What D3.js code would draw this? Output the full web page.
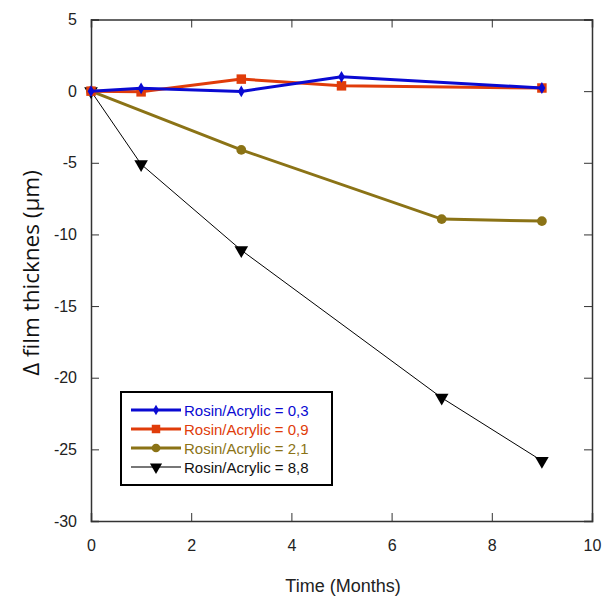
<!DOCTYPE html>
<html>
<head>
<meta charset="utf-8">
<script src="https://cdn.jsdelivr.net/npm/d3@7"></script>
<style>
  body { margin: 0; background: #fff; }
  text { font-family: "Liberation Sans", Arial, sans-serif; }
</style>
</head>
<body>
<div id="app"></div>
<script>
// data
var seriesNames = ["Rosin/Acrylic = 0,3", "Rosin/Acrylic = 0,9", "Rosin/Acrylic = 2,1", "Rosin/Acrylic = 8,8"];
var monthsA = [0, 1, 3, 5, 9];
var valuesA = [0, 0.2, -0.02, 1.0, 0.22];
var monthsB = [0, 1, 3, 5, 9];
var valuesB = [0, -0.05, 0.84, 0.37, 0.22];
var monthsC = [0, 3, 7, 9];
var valuesC = [0, -4.1, -8.93, -9.07];
var monthsD = [0, 1, 3, 7, 9];
var valuesD = [0, -5.1, -11.1, -21.4, -25.8];
var xTicks = [0, 2, 4, 6, 8, 10];
var yTicks = [5, 0, -5, -10, -15, -20, -25, -30];

var colors = ["#0a0ad2", "#e03c0a", "#8b7316", "#000000"];
var widths = [3, 3, 3, 1];

var W = 604, H = 598;
var pLeft = 91, pRight = 592, pTop = 19.5, pBottom = 521;

var svg = d3.select('#app').append('svg').attr('width', W).attr('height', H);

var x = d3.scaleLinear().domain([0, 10]).range([pLeft, pRight]);
var y = d3.scaleLinear().domain([-30, 5]).range([pBottom, pTop]);

// plain hyphen like the original, not the unicode minus
var plain = function(d) { return String(d); };

// frame + inward ticks on every side
var frameColor = "#333";
function styleAxis(g) {
  g.select('.domain').attr('stroke', frameColor).attr('stroke-width', 1.5);
  g.selectAll('.tick line').attr('stroke', frameColor);
  g.selectAll('.tick text').attr('font-size', 16).attr('fill', '#222')
    .style('font-family', '"Liberation Sans", Arial, sans-serif');
}
svg.append('g').attr('transform', 'translate(0,' + pBottom + ')')
  .call(d3.axisBottom(x).tickValues(xTicks).tickSize(-8).tickPadding(19).tickFormat(plain))
  .call(styleAxis);
svg.append('g').attr('transform', 'translate(0,' + pTop + ')')
  .call(d3.axisTop(x).tickValues(xTicks).tickSize(-8).tickFormat(''))
  .call(styleAxis);
svg.append('g').attr('transform', 'translate(' + pLeft + ',0)')
  .call(d3.axisLeft(y).tickValues(yTicks).tickSize(-8).tickPadding(14).tickFormat(plain))
  .call(styleAxis);
svg.append('g').attr('transform', 'translate(' + pRight + ',0)')
  .call(d3.axisRight(y).tickValues(yTicks).tickSize(-8).tickFormat(''))
  .call(styleAxis);

// axis titles
svg.append('text')
  .attr('x', 343).attr('y', 592)
  .attr('text-anchor', 'middle').attr('font-size', 18).attr('fill', '#222')
  .text('Time (Months)');
svg.append('text')
  .attr('transform', 'translate(39,' + 273 + ') rotate(-90)')
  .attr('text-anchor', 'middle').attr('font-size', 22.5).attr('fill', '#111')
  .style('font-family', '"Open Sans", Lato, sans-serif')
  .text('\u0394 film thicknes (\u03bcm)');

var allSeries = [
  { xs: monthsA, ys: valuesA, sym: d3.symbolDiamond, size: 40 },
  { xs: monthsB, ys: valuesB, sym: d3.symbolSquare, size: 90 },
  { xs: monthsC, ys: valuesC, sym: d3.symbolCircle, size: 75 },
  { xs: monthsD, ys: valuesD, sym: d3.symbolTriangle, size: 80, flip: true }
];

var line = d3.line().x(function(d) { return x(d[0]); }).y(function(d) { return y(d[1]); });

// draw bottom series first so blue sits over red like in the picture
[3, 2, 1, 0].forEach(function(i) {
  var s = allSeries[i];
  var pts = s.xs.map(function(v, j) { return [v, s.ys[j]]; });
  svg.append('path').datum(pts)
    .attr('d', line).attr('fill', 'none')
    .attr('stroke', colors[i]).attr('stroke-width', widths[i]);
  svg.selectAll('.m' + i).data(pts).enter().append('path')
    .attr('class', 'm' + i)
    .attr('d', d3.symbol().type(s.sym).size(s.size))
    .attr('transform', function(d) {
      return 'translate(' + x(d[0]) + ',' + y(d[1]) + ')' + (s.flip ? ' rotate(180)' : '');
    })
    .attr('fill', colors[i]);
});

// legend
var lg = svg.append('g').attr('transform', 'translate(121,392)');
lg.append('rect').attr('width', 211).attr('height', 93)
  .attr('fill', '#fff').attr('stroke', '#000').attr('stroke-width', 2);
seriesNames.forEach(function(name, i) {
  var s = allSeries[i];
  var yy = 18 + i * 19;
  lg.append('line').attr('x1', 10).attr('x2', 60).attr('y1', yy).attr('y2', yy)
    .attr('stroke', i === 3 ? '#777' : colors[i]).attr('stroke-width', i === 3 ? 2 : 3);
  lg.append('path')
    .attr('d', d3.symbol().type(s.sym).size(s.size * 0.8))
    .attr('transform', 'translate(35,' + yy + ')' + (s.flip ? ' rotate(180)' : ''))
    .attr('fill', colors[i]);
  lg.append('text').attr('x', 63).attr('y', yy + 5.5)
    .attr('font-size', 15).attr('fill', colors[i] === '#000000' ? '#111' : colors[i])
    .text(name);
});
</script>
</body>
</html>
